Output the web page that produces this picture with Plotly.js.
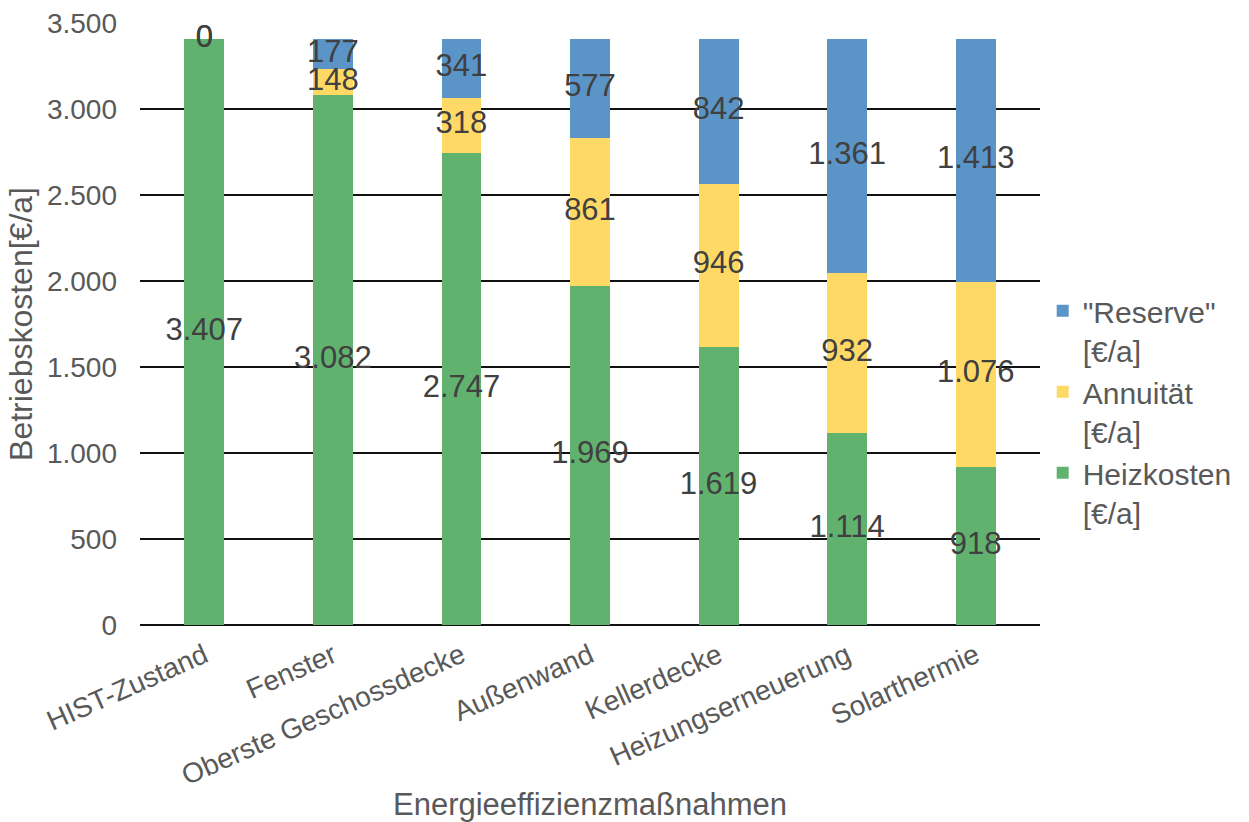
<!DOCTYPE html>
<html>
<head>
<meta charset="utf-8">
<script src="https://cdn.plot.ly/plotly-3.0.1.min.js"></script>
<style>
  html, body { margin: 0; padding: 0; background: #ffffff; }
  #chart { width: 1249px; height: 822px; }
</style>
</head>
<body>
<div id="chart"></div>
<script>
// Betriebskosten je Energieeffizienzmaßnahme [€/a]
const categories = ['HIST-Zustand', 'Fenster', 'Oberste Geschossdecke', 'Außenwand',
                    'Kellerdecke', 'Heizungserneuerung', 'Solarthermie'];
const heizkosten = [3407, 3082, 2747, 1969, 1619, 1114, 918];
const annuitaet  = [0, 148, 318, 861, 946, 932, 1076];
const reserve    = [0, 177, 341, 577, 842, 1361, 1413];

const yTicks = [0, 500, 1000, 1500, 2000, 2500, 3000, 3500];

const FONT = '"Liberation Sans", Arial, sans-serif';
const colors = { heiz: '#62B26F', ann: '#FFD966', res: '#5B94C7' };

// German thousands separator
const fmt = v => String(v).replace(/\B(?=(\d{3})+(?!\d))/g, '.');

const series = [
  { name: 'Heizkosten<br>[€/a]', values: heizkosten, color: colors.heiz },
  { name: 'Annuität<br>[€/a]', values: annuitaet, color: colors.ann },
  { name: '"Reserve"<br>[€/a]', values: reserve, color: colors.res }
];

const traces = [];
const base = categories.map(() => 0);
const labelTraces = [];

series.forEach(s => {
  traces.push({
    type: 'bar',
    name: s.name,
    x: categories,
    y: s.values,
    marker: { color: s.color, line: { width: 0 } },
    width: 0.31,
    hoverinfo: 'skip'
  });
  // value labels centred on each segment
  labelTraces.push({
    type: 'scatter',
    mode: 'text',
    x: categories,
    y: s.values.map((v, i) => base[i] + v / 2),
    text: s.values.map(fmt),
    textposition: 'middle center',
    textfont: { family: FONT, size: 31, color: '#404040' },
    showlegend: false,
    hoverinfo: 'skip',
    cliponaxis: false
  });
  s.values.forEach((v, i) => { base[i] += v; });
});

const layout = {
  width: 1249,
  height: 822,
  paper_bgcolor: '#ffffff',
  plot_bgcolor: '#ffffff',
  barmode: 'stack',
  separators: ',.',
  margin: { l: 140, r: 209, t: 23, b: 197 },
  font: { family: FONT, color: '#595959' },
  showlegend: true,
  legend: {
    x: 1.003, xanchor: 'left',
    y: 0.565, yanchor: 'top',
    traceorder: 'reversed',
    valign: 'top',
    font: { family: FONT, size: 30, color: '#595959' },
    itemwidth: 30,
    tracegroupgap: 0
  },
  xaxis: {
    type: 'category',
    categoryarray: categories,
    range: [-0.5, 6.5],
    tickangle: -24,
    tickfont: { family: FONT, size: 28, color: '#595959' },
    ticklabelstandoff: 8,
    showgrid: false,
    showline: false,
    ticks: '',
    title: {
      text: 'Energieeffizienzmaßnahmen',
      font: { family: FONT, size: 31, color: '#595959' },
      standoff: 10
    }
  },
  yaxis: {
    range: [0, 3500],
    tickvals: yTicks,
    ticktext: yTicks.map(fmt),
    tickfont: { family: FONT, size: 28, color: '#595959' },
    ticklabelstandoff: 22,
    showgrid: true,
    gridcolor: '#111111',
    gridwidth: 1.5,
    zeroline: true,
    zerolinecolor: '#111111',
    zerolinewidth: 1.5,
    showline: false,
    ticks: '',
    title: {
      text: 'Betriebskosten[€/a]',
      font: { family: FONT, size: 32, color: '#595959' },
      standoff: 4
    }
  }
};

Plotly.newPlot('chart', traces.concat(labelTraces), layout, { displayModeBar: false, staticPlot: true });
</script>
</body>
</html>
